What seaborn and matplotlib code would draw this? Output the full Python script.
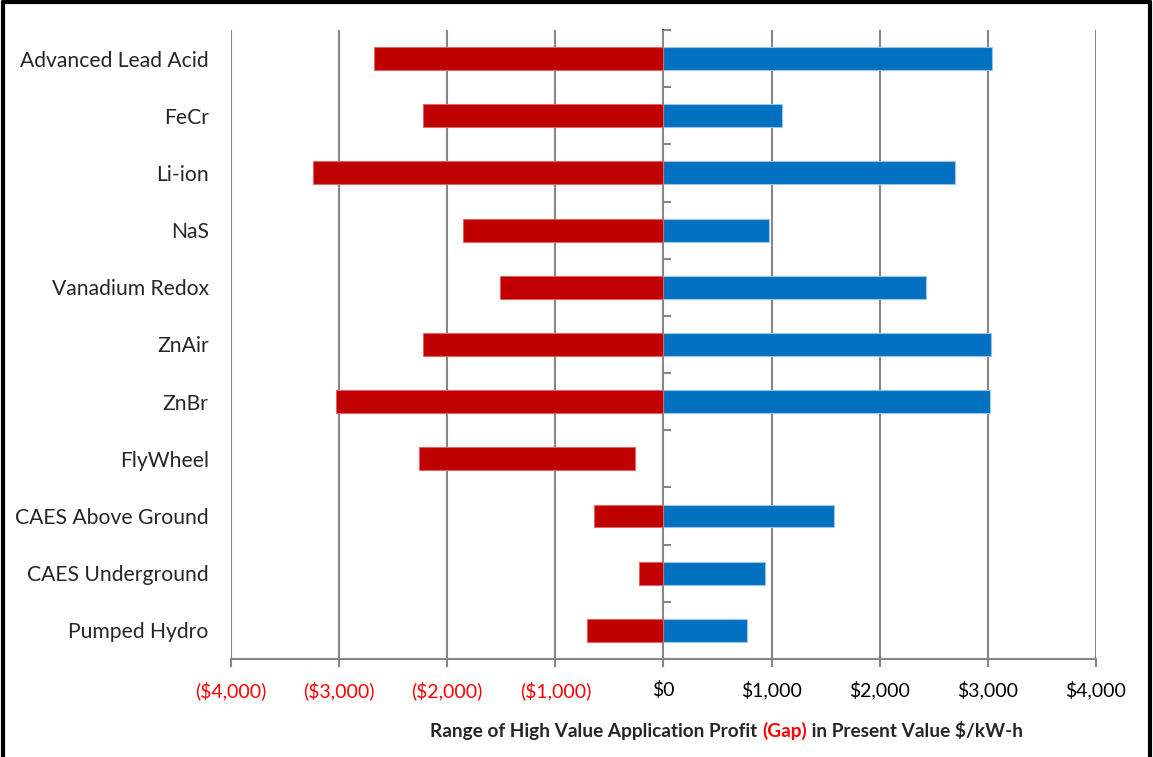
import numpy as np
import pandas as pd
import matplotlib
matplotlib.use("Agg")
import matplotlib.pyplot as plt
import seaborn as sns
from matplotlib.ticker import FuncFormatter

# values ($/kW-h, present value)
technologies = ["Advanced Lead Acid", "FeCr", "Li-ion", "NaS", "Vanadium Redox",
                "ZnAir", "ZnBr", "FlyWheel", "CAES Above Ground",
                "CAES Underground", "Pumped Hydro"]
gap_low = [-2680, -2220, -3240, -1850, -1510, -2220, -3030, -2260, -640, -230, -710]
gap_high = [0, 0, 0, 0, 0, 0, 0, -260, 0, 0, 0]
profit_high = [3040, 1100, 2700, 980, 2430, 3030, 3020, 0, 1580, 940, 770]
x_ticks = [-4000, -3000, -2000, -1000, 0, 1000, 2000, 3000, 4000]

RED = "#C00000"
BLUE = "#0070C0"
GRID = "#868686"

df = pd.DataFrame({"tech": technologies, "low": gap_low,
                   "high": gap_high, "profit": profit_high})

sns.set_theme(style="white")
plt.rcParams["font.family"] = ["Lato", "DejaVu Sans"]

fig = plt.figure(figsize=(11.53, 7.57), dpi=100)
ax = fig.add_axes([0.2003, 0.1295, 0.7503, 0.8309])

# profit side (blue)
sns.barplot(data=df, x="profit", y="tech", orient="h", color=BLUE,
            width=0.4, saturation=1, ax=ax, zorder=3,
            edgecolor="#9DC3E6", linewidth=0.8)
for p in ax.patches:
    if p.get_width() == 0:
        p.set_visible(False)
# gap side (red), floating bars
ax.barh(np.arange(len(df)), df["high"] - df["low"], left=df["low"], height=0.4,
        color=RED, edgecolor="#E06666", linewidth=0.8, zorder=3)

ax.set_xlim(-4000, 4000)
ax.set_ylim(len(df) - 0.5, -0.5)
ax.set_xticks(x_ticks)
ax.xaxis.set_major_formatter(FuncFormatter(
    lambda v, p: f"(${abs(v):,.0f})" if v < 0 else f"${v:,.0f}"))
ax.tick_params(axis="x", bottom=True, length=6, width=1.5, color=GRID,
               pad=10, labelsize=14)
for lbl, v in zip(ax.get_xticklabels(), x_ticks):
    lbl.set_color("#FF0000" if v < 0 else "black")

ax.set_yticks(np.arange(len(df)))
ax.set_yticklabels(technologies)
ax.tick_params(axis="y", left=False, pad=10, labelsize=15.2)
ax.set_xlabel("")
ax.set_ylabel("")

ax.grid(axis="x", color=GRID, linewidth=1.5, zorder=0)
ax.set_axisbelow(True)
for s in ["top", "right", "left"]:
    ax.spines[s].set_visible(False)
ax.spines["bottom"].set_color(GRID)
ax.spines["bottom"].set_linewidth(1.5)

# small category-separator ticks on the $0 axis
sec = ax.secondary_yaxis(0.5)
sec.set_yticks(np.arange(len(df) + 1) - 0.5)
sec.set_yticklabels([])
sec.tick_params(axis="y", length=6, width=1.5, color=GRID, direction="out")
sec.spines["left"].set_visible(False)

# x axis title with red "(Gap)"
t1 = fig.text(0.373, 0.026, "Range of High Value Application Profit ",
              fontsize=13.7, fontweight="bold", ha="left", va="baseline")
t2 = ax.annotate("(Gap)", xy=(1, 0), xycoords=t1, fontsize=13.7,
                 fontweight="bold", color="#FF0000", ha="left", va="bottom")
ax.annotate(" in Present Value $/kW-h", xy=(1, 0), xycoords=t2, fontsize=13.7,
            fontweight="bold", ha="left", va="bottom")

# outer frame
for xs, ys in [([0.003, 0.003], [0, 0.997]), ([0.003, 0.997], [0.997, 0.997]),
               ([0.997, 0.997], [0, 0.997])]:
    fig.add_artist(plt.Line2D(xs, ys, color="black", linewidth=3,
                              transform=fig.transFigure))

fig.savefig("out.png", dpi=100)
